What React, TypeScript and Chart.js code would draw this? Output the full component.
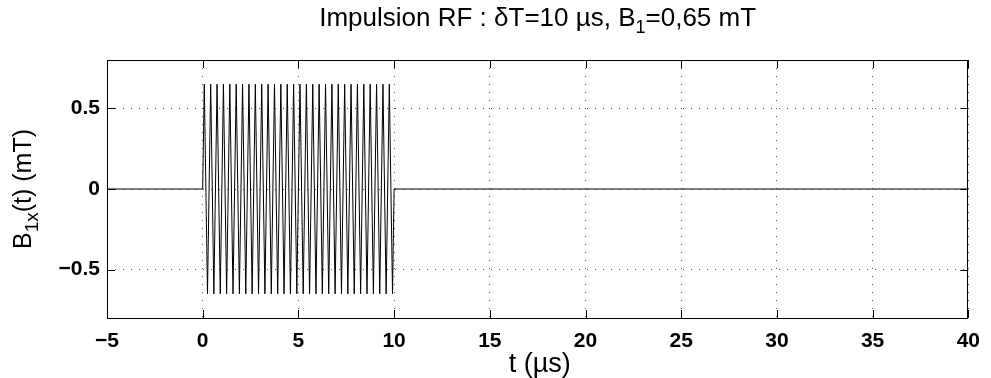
import React, { useEffect, useRef } from "react";
import { Chart, registerables } from "chart.js";

Chart.register(...registerables);

// Time axis (µs) and field axis (mT)
const xTicks = [-5, 0, 5, 10, 15, 20, 25, 30, 35, 40];
const yTicks = [-0.5, 0, 0.5];

// Flat baseline before and after the pulse
const baseBeforeT = [-5, 0];
const baseBeforeV = [0, 0];
const baseAfterT = [10, 40];
const baseAfterV = [0, 0];

// RF pulse extrema (30 cycles over 10 µs)
const pulseTimes = [
  0.083, 0.25, 0.417, 0.583, 0.75, 0.917,
  1.083, 1.25, 1.417, 1.583, 1.75, 1.917,
  2.083, 2.25, 2.417, 2.583, 2.75, 2.917,
  3.083, 3.25, 3.417, 3.583, 3.75, 3.917,
  4.083, 4.25, 4.417, 4.583, 4.75, 4.917,
  5.083, 5.25, 5.417, 5.583, 5.75, 5.917,
  6.083, 6.25, 6.417, 6.583, 6.75, 6.917,
  7.083, 7.25, 7.417, 7.583, 7.75, 7.917,
  8.083, 8.25, 8.417, 8.583, 8.75, 8.917,
  9.083, 9.25, 9.417, 9.583, 9.75, 9.917,
];
const pulseValues = [
  0.65, -0.65, 0.65, -0.65, 0.65, -0.65,
  0.65, -0.65, 0.65, -0.65, 0.65, -0.65,
  0.65, -0.65, 0.65, -0.65, 0.65, -0.65,
  0.65, -0.65, 0.65, -0.65, 0.65, -0.65,
  0.65, -0.65, 0.65, -0.65, 0.65, -0.65,
  0.65, -0.65, 0.65, -0.65, 0.65, -0.65,
  0.65, -0.65, 0.65, -0.65, 0.65, -0.65,
  0.65, -0.65, 0.65, -0.65, 0.65, -0.65,
  0.65, -0.65, 0.65, -0.65, 0.65, -0.65,
  0.65, -0.65, 0.65, -0.65, 0.65, -0.65,
];

const FONT = "'Liberation Sans', Arial, Helvetica, sans-serif";

type Seg = { t: string; sub?: boolean };

function drawSegs(ctx: CanvasRenderingContext2D, segs: Seg[], cx: number, baseY: number, size: number, subSize: number, subDrop: number) {
  let w = 0;
  for (const s of segs) {
    ctx.font = `${s.sub ? subSize : size}px ${FONT}`;
    w += ctx.measureText(s.t).width;
  }
  let x = cx - w / 2;
  ctx.textAlign = "left";
  ctx.textBaseline = "alphabetic";
  for (const s of segs) {
    ctx.font = `${s.sub ? subSize : size}px ${FONT}`;
    ctx.fillText(s.t, x, baseY + (s.sub ? subDrop : 0));
    x += ctx.measureText(s.t).width;
  }
}

const framePlugin = {
  id: "matlabFrame",
  afterDatasetsDraw(chart: any) {
    const { ctx, chartArea: a, scales } = chart;
    const xs = scales.x;
    const ys = scales.y;
    ctx.save();
    ctx.strokeStyle = "#000";
    ctx.lineWidth = 1;
    ctx.setLineDash([]);
    ctx.strokeRect(Math.round(a.left) + 0.5, Math.round(a.top) + 0.5, Math.round(a.right - a.left) - 1, Math.round(a.bottom - a.top));
    const L = 8;
    ctx.beginPath();
    for (const v of xTicks) {
      const px = Math.round(xs.getPixelForValue(v)) + 0.5;
      ctx.moveTo(px, a.bottom);
      ctx.lineTo(px, a.bottom - L);
      ctx.moveTo(px, a.top);
      ctx.lineTo(px, a.top + L);
    }
    for (const v of yTicks) {
      const py = Math.round(ys.getPixelForValue(v)) + 0.5;
      ctx.moveTo(a.left, py);
      ctx.lineTo(a.left + L, py);
      ctx.moveTo(a.right, py);
      ctx.lineTo(a.right - L, py);
    }
    ctx.stroke();
    ctx.restore();
  },
  afterDraw(chart: any) {
    const { ctx, chartArea: a } = chart;
    ctx.save();
    ctx.fillStyle = "#000";
    const cx = (a.left + a.right) / 2;
    // Title
    drawSegs(ctx, [
      { t: "Impulsion RF : δT=10 µs, B" },
      { t: "1", sub: true },
      { t: "=0,65 mT" },
    ], cx, 26, 26, 18, 7);
    // X label
    drawSegs(ctx, [{ t: "t (µs)" }], cx + 2, 372, 27, 18, 7);
    // Y label
    ctx.translate(31, (a.top + a.bottom) / 2);
    ctx.rotate(-Math.PI / 2);
    drawSegs(ctx, [
      { t: "B" },
      { t: "1x", sub: true },
      { t: "(t) (mT)" },
    ], 0, 0, 25, 19, 7);
    ctx.restore();
  },
};

export default function App() {
  const ref = useRef<HTMLCanvasElement>(null);

  useEffect(() => {
    document.body.style.margin = "0";
    const canvas = ref.current;
    if (!canvas) return;
    const points: { x: number; y: number }[] = [];
    baseBeforeT.forEach((t, i) => points.push({ x: t, y: baseBeforeV[i] }));
    pulseTimes.forEach((t, i) => points.push({ x: t, y: pulseValues[i] }));
    baseAfterT.forEach((t, i) => points.push({ x: t, y: baseAfterV[i] }));

    const chart = new Chart(canvas, {
      type: "line",
      data: {
        datasets: [
          {
            data: points,
            borderColor: "#000",
            borderWidth: 1,
            pointRadius: 0,
            tension: 0,
            fill: false,
          },
        ],
      },
      options: {
        animation: false,
        responsive: false,
        devicePixelRatio: 1,
        layout: { padding: { left: 0, right: 15, top: 60, bottom: 0 } },
        plugins: { legend: { display: false }, title: { display: false }, tooltip: { enabled: false } },
        scales: {
          x: {
            type: "linear",
            min: -5,
            max: 40,
            afterBuildTicks: (s: any) => {
              s.ticks = xTicks.map((v) => ({ value: v }));
            },
            afterFit: (s: any) => {
              s.height = 60;
            },
            ticks: {
              color: "#000",
              font: { family: FONT, size: 21, weight: "bold" },
              padding: 11,
              maxRotation: 0,
              autoSkip: false,
              callback: (v: any) => (Number(v) < 0 ? "\u2212" + Math.abs(Number(v)) : String(v)),
            },
            grid: { color: "#555", lineWidth: 1, drawTicks: false },
            border: { display: false, dash: [1, 7] },
          },
          y: {
            type: "linear",
            min: -0.8,
            max: 0.8,
            afterBuildTicks: (s: any) => {
              s.ticks = yTicks.map((v) => ({ value: v }));
            },
            afterFit: (s: any) => {
              s.width = 107;
            },
            ticks: {
              color: "#000",
              font: { family: FONT, size: 21, weight: "bold" },
              padding: 7,
              autoSkip: false,
              callback: (v: any) => (Number(v) < 0 ? "\u2212" + Math.abs(Number(v)) : String(v)),
            },
            grid: { color: "#555", lineWidth: 1, drawTicks: false },
            border: { display: false, dash: [1, 7] },
          },
        },
      },
      plugins: [framePlugin],
    });
    return () => chart.destroy();
  }, []);

  return (
    <div style={{ position: "absolute", left: 0, top: 0, width: 991, height: 378, background: "#fff" }}>
      <canvas ref={ref} width={991} height={378} style={{ display: "block" }} />
    </div>
  );
}
